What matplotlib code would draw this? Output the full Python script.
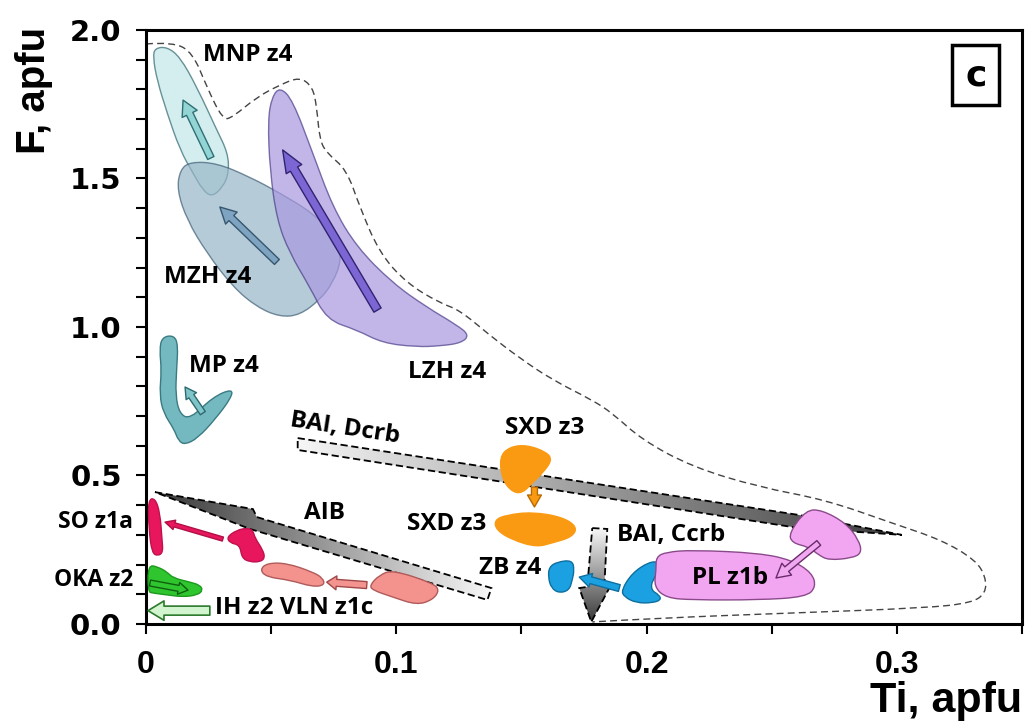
import numpy as np
import matplotlib
matplotlib.use('Agg')
import matplotlib.pyplot as plt
from matplotlib.path import Path
from matplotlib.patches import PathPatch, Polygon
from matplotlib.colors import LinearSegmentedColormap

# ---- data (Ti, F in apfu) ----
envelope = [(0.000, 1.953), (0.0108, 1.960), (0.0187, 1.923), (0.0243, 1.808), (0.0307, 1.697),
            (0.0347, 1.707), (0.0443, 1.774), (0.0535, 1.815), (0.0614, 1.842), (0.0666, 1.808),
            (0.0682, 1.741), (0.0694, 1.630), (0.0722, 1.586), (0.0802, 1.529), (0.0854, 1.404),
            (0.0933, 1.249), (0.1041, 1.148), (0.1173, 1.081), (0.1253, 1.057), (0.1372, 0.973),
            (0.1492, 0.896), (0.1623, 0.822), (0.1783, 0.754), (0.1863, 0.710), (0.1982, 0.620),
            (0.2182, 0.529), (0.2449, 0.461), (0.2716, 0.418), (0.2980, 0.340), (0.3179, 0.283),
            (0.3315, 0.215), (0.3355, 0.158), (0.3355, 0.104), (0.3299, 0.071), (0.3115, 0.054),
            (0.2581, 0.037), (0.2050, 0.020), (0.1783, 0.007)]

mnp = [(0.0036, 1.939), (0.0084, 1.943), (0.0136, 1.909), (0.0203, 1.808), (0.0283, 1.663),
       (0.0327, 1.586), (0.0331, 1.519), (0.0307, 1.471), (0.0263, 1.438), (0.0227, 1.461),
       (0.0187, 1.519), (0.0136, 1.596), (0.0084, 1.721), (0.0044, 1.832), (0.0028, 1.909)]
mzh = [(0.0176, 1.556), (0.0283, 1.552), (0.0415, 1.505), (0.0535, 1.451), (0.0666, 1.384),
       (0.0762, 1.303), (0.0782, 1.226), (0.0746, 1.148), (0.0694, 1.091), (0.0614, 1.040),
       (0.0535, 1.034), (0.0443, 1.067), (0.0347, 1.135), (0.0243, 1.249), (0.0164, 1.360),
       (0.0124, 1.461), (0.0136, 1.529)]
lzh = [(0.0535, 1.808), (0.0586, 1.764), (0.0666, 1.586), (0.0746, 1.404), (0.0842, 1.269),
       (0.0985, 1.148), (0.1121, 1.067), (0.1241, 1.007), (0.1292, 0.973), (0.1260, 0.946),
       (0.1173, 0.936), (0.1081, 0.933), (0.0945, 0.946), (0.0842, 0.990), (0.0722, 1.024),
       (0.0654, 1.135), (0.0574, 1.249), (0.0523, 1.360), (0.0495, 1.529), (0.0487, 1.697),
       (0.0503, 1.774)]
mp = [(0.0064, 0.966), (0.0112, 0.972), (0.0128, 0.939), (0.0122, 0.855), (0.0118, 0.771),
      (0.0134, 0.708), (0.0176, 0.690), (0.0267, 0.764), (0.0345, 0.792), (0.0341, 0.762),
      (0.0277, 0.690), (0.0207, 0.626), (0.0156, 0.604), (0.0130, 0.616), (0.0112, 0.656),
      (0.0070, 0.710), (0.0054, 0.771), (0.0062, 0.855), (0.0054, 0.923)]
so_1 = [(0.0008, 0.418), (0.0036, 0.424), (0.0056, 0.374), (0.0064, 0.283), (0.0068, 0.242),
        (0.0048, 0.229), (0.0024, 0.239), (0.0012, 0.316)]
so_2 = [(0.0323, 0.293), (0.0363, 0.316), (0.0403, 0.323), (0.0427, 0.316), (0.0435, 0.290),
        (0.0467, 0.249), (0.0475, 0.222), (0.0455, 0.209), (0.0415, 0.209), (0.0383, 0.222),
        (0.0375, 0.266), (0.0335, 0.273)]
oka = [(0.0008, 0.199), (0.0048, 0.192), (0.0084, 0.175), (0.0108, 0.155), (0.0176, 0.141),
       (0.0215, 0.131), (0.0227, 0.114), (0.0207, 0.098), (0.0148, 0.091), (0.0084, 0.098),
       (0.0028, 0.104), (0.0008, 0.108)]
vln_1 = [(0.0455, 0.182), (0.0483, 0.205), (0.0562, 0.205), (0.0666, 0.175), (0.0706, 0.155),
         (0.0714, 0.131), (0.0666, 0.125), (0.0574, 0.148), (0.0483, 0.158)]
vln_2 = [(0.0894, 0.131), (0.0933, 0.165), (0.0985, 0.182), (0.1145, 0.138), (0.1173, 0.114),
         (0.1145, 0.081), (0.1081, 0.064), (0.0985, 0.091), (0.0905, 0.114)]
sxd_1 = [(0.1412, 0.562), (0.1452, 0.596), (0.1520, 0.603), (0.1600, 0.579), (0.1623, 0.552),
         (0.1584, 0.508), (0.1544, 0.475), (0.1504, 0.441), (0.1464, 0.444), (0.1424, 0.485)]
sxd_2 = [(0.1392, 0.350), (0.1440, 0.367), (0.1544, 0.377), (0.1663, 0.360), (0.1723, 0.327),
         (0.1703, 0.293), (0.1623, 0.273), (0.1560, 0.259), (0.1464, 0.283), (0.1400, 0.316)]
zb = [(0.1611, 0.192), (0.1643, 0.209), (0.1703, 0.215), (0.1711, 0.182), (0.1703, 0.148),
      (0.1691, 0.114), (0.1651, 0.104), (0.1619, 0.121), (0.1607, 0.158)]
zb_2 = [(0.1899, 0.114), (0.1943, 0.172), (0.2010, 0.209), (0.2050, 0.209), (0.2058, 0.182),
        (0.2022, 0.148), (0.2018, 0.114), (0.2050, 0.098), (0.2058, 0.081), (0.2022, 0.071),
        (0.1959, 0.071), (0.1911, 0.091)]
pl_1 = [(0.2569, 0.306), (0.2637, 0.384), (0.2700, 0.384), (0.2796, 0.340), (0.2848, 0.283),
        (0.2860, 0.239), (0.2820, 0.222), (0.2728, 0.215), (0.2688, 0.232), (0.2649, 0.259),
        (0.2581, 0.273)]
pl_2 = [(0.2038, 0.226), (0.2078, 0.242), (0.2182, 0.249), (0.2449, 0.239), (0.2581, 0.215),
        (0.2661, 0.172), (0.2677, 0.125), (0.2637, 0.091), (0.2449, 0.081), (0.2182, 0.081),
        (0.2078, 0.088), (0.2030, 0.125), (0.2038, 0.182)]

# trend bands (outline vertices)
bai_dcrb = [(0.0606, 0.626), (0.2609, 0.367), (0.3020, 0.300), (0.2609, 0.323), (0.0606, 0.586)]
aib = [(0.0036, 0.444), (0.0427, 0.387), (0.0443, 0.360), (0.1380, 0.121), (0.1364, 0.081),
       (0.0415, 0.320)]
bai_ccrb = [(0.1783, 0.323), (0.1843, 0.320), (0.1831, 0.125), (0.1851, 0.121), (0.1779, 0.007),
            (0.1731, 0.121), (0.1763, 0.125)]

# arrows: (tail, head)
arrows = {
    'MNP': ((0.0259, 1.569), (0.0148, 1.764)),
    'MZH': ((0.0523, 1.219), (0.0295, 1.404)),
    'LZH': ((0.0925, 1.057), (0.0546, 1.596)),
    'MP': ((0.0227, 0.710), (0.0156, 0.798)),
    'SO': ((0.0307, 0.286), (0.0076, 0.343)),
    'OKA': ((0.0016, 0.138), (0.0168, 0.114)),
    'IH': ((0.0255, 0.045), (0.0008, 0.045)),
    'VLN': ((0.0882, 0.131), (0.0722, 0.141)),
    'SXD': ((0.1552, 0.461), (0.1552, 0.394)),
    'ZB': ((0.1891, 0.121), (0.1731, 0.158)),
    'PL': ((0.2688, 0.273), (0.2517, 0.155)),
}

labels = [('MNP z4', 0.0407, 1.916), ('MZH z4', 0.0247, 1.168), ('LZH z4', 0.1201, 0.848),
          ('MP z4', 0.0311, 0.869), ('AIB', 0.0714, 0.374), ('SXD z3', 0.1592, 0.660),
          ('SXD z3', 0.1201, 0.337), ('ZB z4', 0.1456, 0.189), ('BAI, Ccrb', 0.2098, 0.300),
          ('PL z1b', 0.2333, 0.155)]

x_ticks = [0, 0.05, 0.1, 0.15, 0.2, 0.25, 0.3, 0.35]
x_ticklabels = ['0', '', '0.1', '', '0.2', '', '0.3', '']
y_ticks = [i / 10 for i in range(21)]
y_ticklabels = ['0.0', '', '', '', '', '0.5', '', '', '', '', '1.0', '', '', '', '', '1.5',
                '', '', '', '', '2.0']


def smooth(pts, closed=True):
    p = np.asarray(pts, float)
    if closed:
        mids = (p + np.roll(p, -1, axis=0)) / 2
        verts = [mids[-1]]
        codes = [Path.MOVETO]
        for i in range(len(p)):
            verts += [p[i], mids[i]]
            codes += [Path.CURVE3, Path.CURVE3]
        verts.append(mids[-1])
        codes.append(Path.CLOSEPOLY)
    else:
        verts = [p[0]]
        codes = [Path.MOVETO]
        for i in range(1, len(p) - 1):
            end = p[i + 1] if i == len(p) - 2 else (p[i] + p[i + 1]) / 2
            verts += [p[i], end]
            codes += [Path.CURVE3, Path.CURVE3]
    return Path(verts, codes)


def blob(ax, pts, fc, ec, alpha=1.0, lw=1.0, z=3):
    ax.add_patch(PathPatch(smooth(pts), fc=fc, ec=ec, alpha=alpha, lw=lw, zorder=z))


def band(ax, pts, c0, c1, vertical=False, z=2):
    poly = Polygon(pts, closed=True, fc='none', ec='black', ls=(0, (4, 2)), lw=1.3, zorder=z + 0.1)
    ax.add_patch(poly)
    xs, ys = zip(*pts)
    g = np.linspace(0, 1, 256)
    img = g[:, None] if vertical else g[None, :]
    cmap = LinearSegmentedColormap.from_list('g', [c0, c1])
    im = ax.imshow(img, extent=[min(xs), max(xs), min(ys), max(ys)], origin='lower',
                   cmap=cmap, aspect='auto', zorder=z, interpolation='bilinear')
    im.set_clip_path(poly)


def arrow(ax, key, fc, ec, tw, hw, hl, lw=1.0, z=6):
    tail, head = arrows[key]
    ax.annotate('', xy=head, xytext=tail,
                arrowprops=dict(arrowstyle=f'simple,head_length={hl},head_width={hw},tail_width={tw}',
                                fc=fc, ec=ec, lw=lw, shrinkA=0, shrinkB=0, mutation_scale=1),
                zorder=z)


fig = plt.figure(figsize=(10.29, 7.26), dpi=100)
ax = fig.add_axes([0.1419, 0.1405, 0.8513, 0.8182])

# envelope
ev = smooth(envelope, closed=False)
ax.add_patch(PathPatch(ev, fc='none', ec='#444444', lw=1.0, ls=(0, (5, 3)), zorder=1))

# trend bands
band(ax, bai_dcrb, '#f6f6f6', '#3c3c3c')
band(ax, aib, '#383838', '#f8f8f8')
band(ax, bai_ccrb, '#3a3a3a', '#f8f8f8', vertical=True)

# fields
blob(ax, mnp, '#cdebee', '#4f7f84', alpha=0.85, z=3)
blob(ax, mzh, '#98b5c8', '#3f5f75', alpha=0.7, z=3.2)
blob(ax, lzh, '#a898e0', '#4a3c88', alpha=0.7, z=3.4)
blob(ax, mp, '#74b9c0', '#3a7a82')
blob(ax, so_1, '#e8175d', '#c01050')
blob(ax, so_2, '#e8175d', '#c01050')
blob(ax, oka, '#2ec52e', '#1d9a1d')
blob(ax, vln_1, '#f4928e', '#b05a5a')
blob(ax, vln_2, '#f4928e', '#b05a5a')
blob(ax, sxd_1, '#fa9a12', '#fa9a12')
blob(ax, sxd_2, '#fa9a12', '#fa9a12')
blob(ax, zb, '#1ba1e2', '#0d6ea0')
blob(ax, zb_2, '#1ba1e2', '#0d6ea0')
blob(ax, pl_2, '#f2a6f2', '#8a4a8a')
blob(ax, pl_1, '#f2a6f2', '#8a4a8a')

# arrows
arrow(ax, 'MNP', '#93d4d4', '#2f6f73', 5, 12, 11)
arrow(ax, 'MZH', '#7ea4c2', '#36566e', 5, 12, 11.5)
arrow(ax, 'LZH', '#7c66d4', '#2f2370', 6, 13, 16)
arrow(ax, 'MP', '#7fc4c8', '#2d6a70', 4.3, 9, 8)
arrow(ax, 'SO', '#e8175d', '#b01045', 3, 7, 7)
arrow(ax, 'OKA', '#2ec52e', '#0f5f0f', 4.3, 8.6, 7)
arrow(ax, 'IH', '#d2f5cf', '#2d7a2d', 6.5, 14, 11.5, lw=1.2)
arrow(ax, 'VLN', '#f49490', '#a04848', 5, 10, 7)
arrow(ax, 'SXD', '#fa9a12', '#b86a00', 4.3, 10, 8.6)
arrow(ax, 'ZB', '#1ba1e2', '#0d6ea0', 5, 10, 8.6)
arrow(ax, 'PL', '#f0a8f0', '#6a2a6a', 4.3, 11, 10)

# labels
lab_font = dict(family=['Open Sans', 'DejaVu Sans'], weight='bold', fontsize=17.5, color='black')
for txt, x, y in labels:
    ax.text(x, y, txt, ha='center', va='center', zorder=8, **lab_font)
ax.text(0.0794, 0.660, 'BAI, Dcrb', ha='center', va='center', rotation=-8.7, zorder=8, **lab_font)
ax.text(0.0275, 0.054, 'IH z2 VLN z1c', ha='left', va='center', zorder=8, **lab_font)
small_font = dict(family=['Open Sans', 'DejaVu Sans'], weight='bold', fontsize=16.5, color='black')
ax.text(-0.0052, 0.343, 'SO z1a', ha='right', va='center', clip_on=False, **small_font)
ax.text(-0.0052, 0.148, 'OKA z2', ha='right', va='center', clip_on=False, **small_font)

ax.text(0.3315, 1.848, 'c', ha='center', va='center', fontsize=26, weight='bold',
        family='DejaVu Sans', zorder=9,
        bbox=dict(boxstyle='square,pad=0.35', fc='white', ec='black', lw=2.5))

ax.set_xlim(0, 0.35)
ax.set_ylim(0, 2.0)
ax.set_xticks(x_ticks)
ax.set_xticklabels(x_ticklabels, family=['Liberation Sans Narrow', 'Liberation Sans'],
                   weight='bold', fontsize=23)
ax.set_yticks(y_ticks)
ax.set_yticklabels(y_ticklabels, family='DejaVu Sans', weight='bold', fontsize=21)
ax.tick_params(axis='both', direction='out', length=7.5, width=1.5)
ax.tick_params(axis='x', pad=11)
ax.tick_params(axis='y', pad=10)
for s in ax.spines.values():
    s.set_linewidth(2.2)

fig.text(0.033, 0.875, 'F, apfu', rotation=90, ha='center', va='center', fontsize=29,
         weight='bold', family=['Liberation Sans Narrow', 'Liberation Sans'])
fig.text(0.993, 0.035, 'Ti, apfu', ha='right', va='center', fontsize=31,
         weight='bold', family=['Liberation Sans Narrow', 'Liberation Sans'])

fig.savefig('out.png', dpi=100)
